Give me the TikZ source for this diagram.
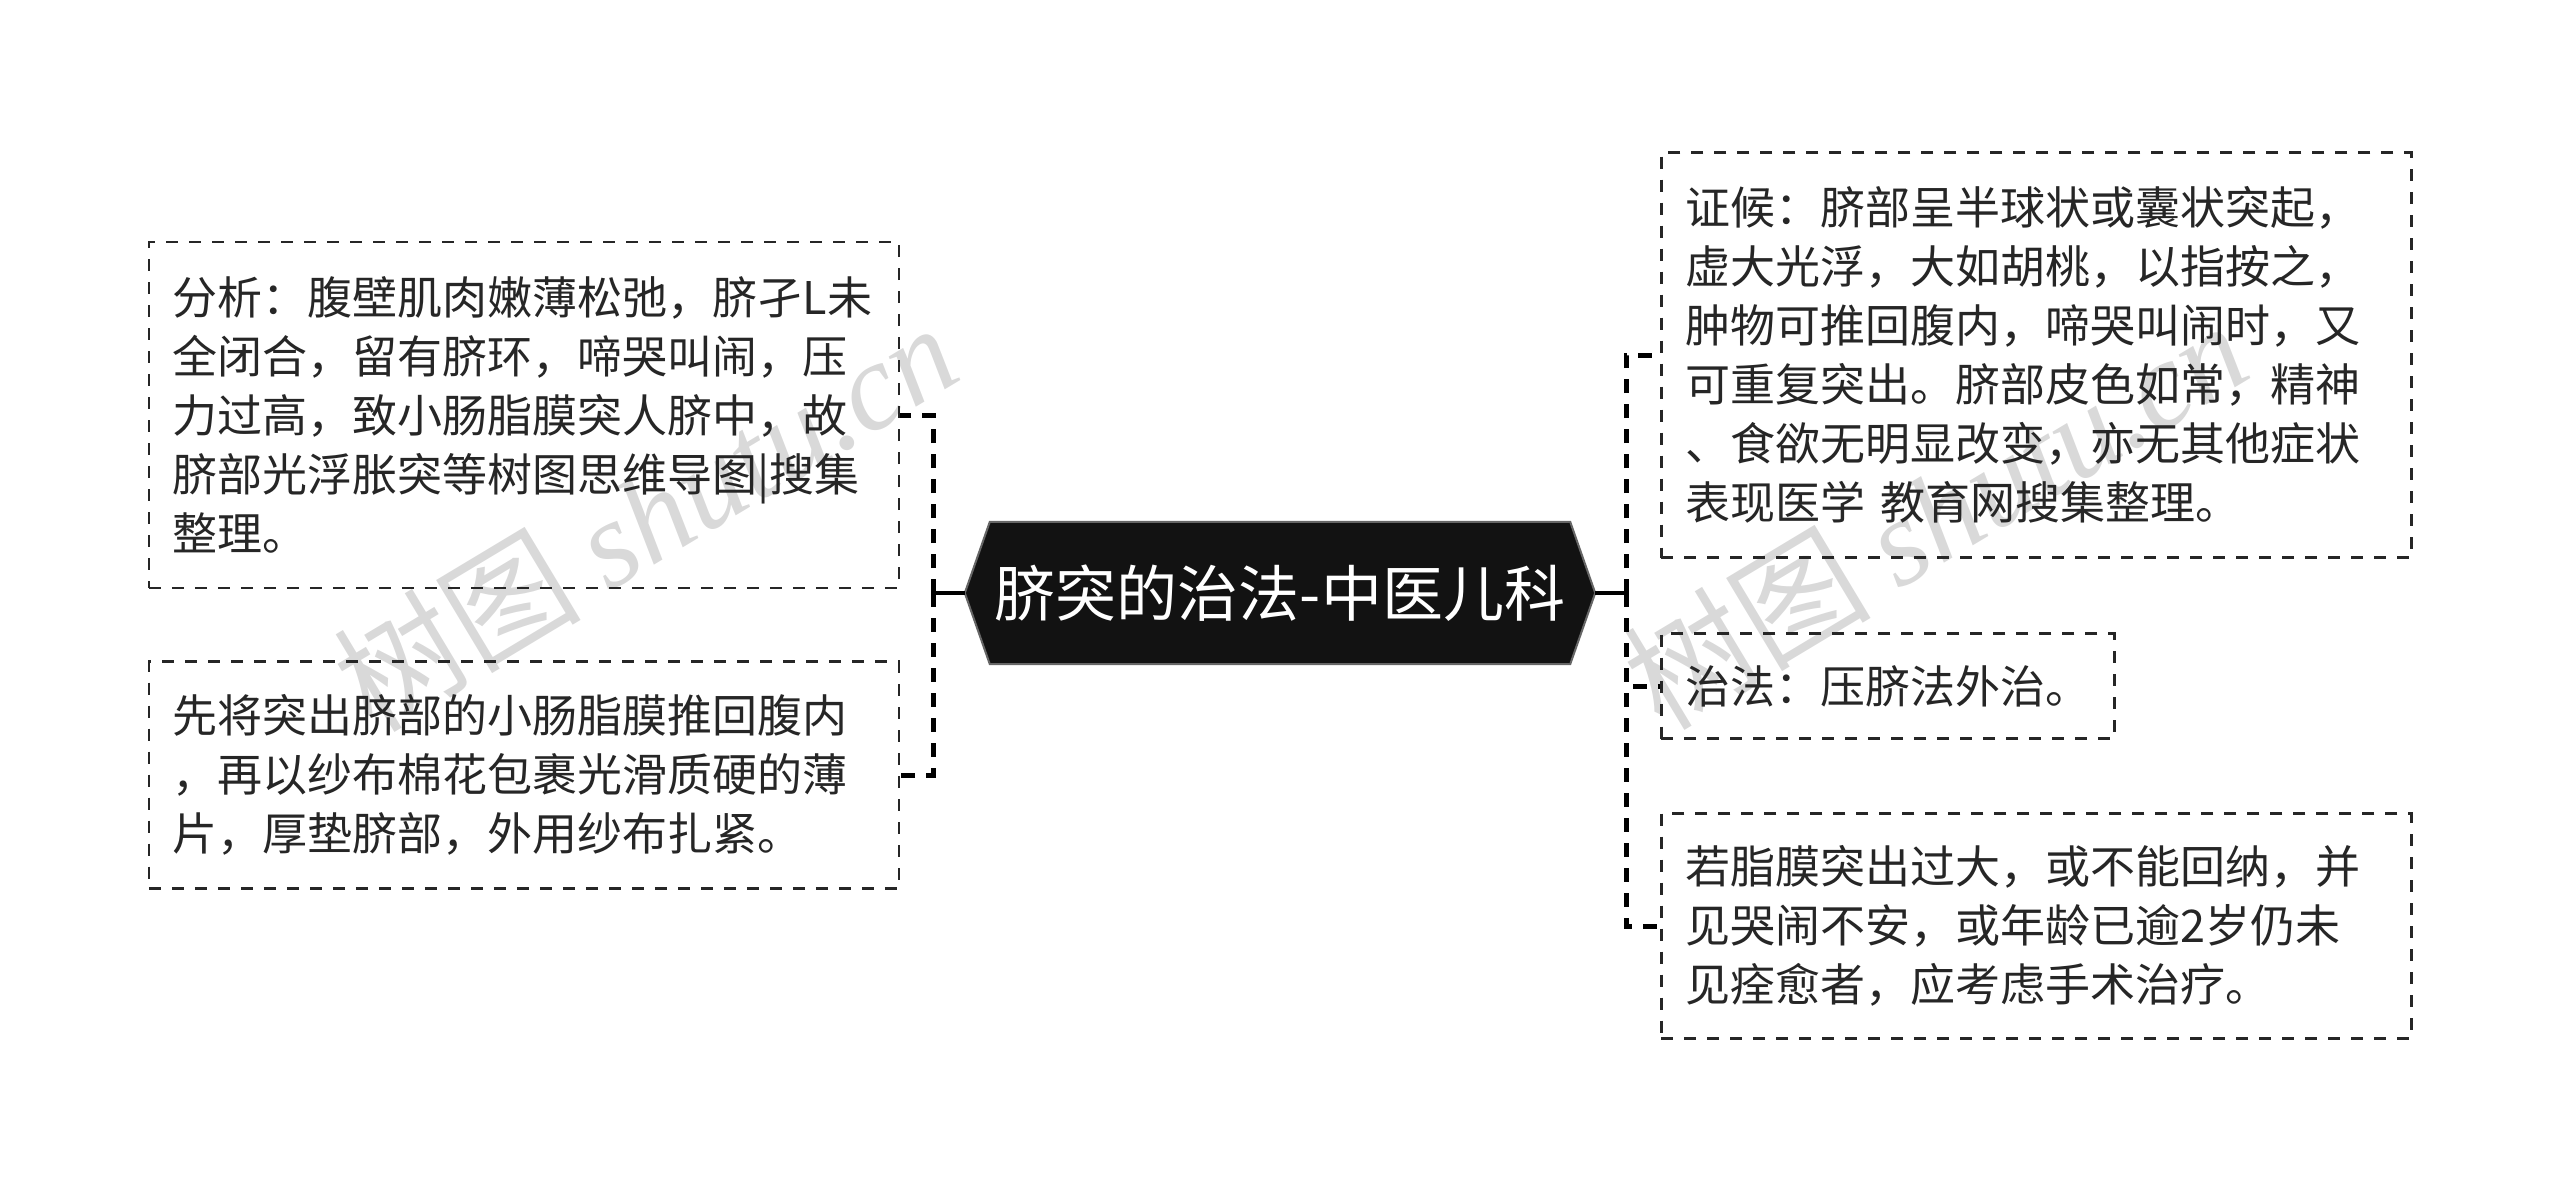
\documentclass[tikz,border=0pt]{standalone}
\usepackage{fontspec}
\setmainfont{Noto Sans CJK SC}
\newfontfamily\wmlatin{Liberation Serif}
\usetikzlibrary{backgrounds}
\begin{document}
\begin{tikzpicture}[x=1pt,y=-1pt,
  box/.style={draw=black!85, line width=2.5pt, dash pattern=on 12pt off 11pt,
    inner xsep=24pt, inner ysep=0pt, align=left, text=black!85,
    font=\fontsize{45pt}{59pt}\selectfont},
  wide/.style={text width=702pt},
  conn/.style={line width=5pt, dash pattern=on 14pt off 11pt},
  solidconn/.style={line width=4.5pt},
  central/.style={minimum width=630pt, minimum height=142pt, inner sep=0pt,
    text=white, font=\fontsize{61pt}{72pt}\selectfont},
  hex/.style={fill=black!93, draw=black!60, line width=2pt},
  wm/.style={text=black!15, font=\fontsize{124pt}{140pt}\selectfont, rotate=31, inner sep=0pt}
]
\useasboundingbox (0,0) rectangle (2560,1191);

% watermarks
\node[wm] (w1) at (645,516) {树图 {\wmlatin\itshape shutu.cn}};
\node[wm] (w2) at (1935,514) {树图 {\wmlatin\itshape shutu.cn}};

% central node
\node[central] (c) at (1280,593) {脐突的治法-中医儿科};
\begin{scope}[on background layer]
\draw[hex] (c.west) -- ([xshift=25pt]c.north west) -- ([xshift=-25pt]c.north east)
  -- (c.east) -- ([xshift=-25pt]c.south east) -- ([xshift=25pt]c.south west) -- cycle;
\end{scope}

% left boxes
\node[box, wide, anchor=east, minimum height=346pt] (l1) at (900,415)
  {分析：腹壁肌肉嫩薄松弛，脐孑L未\\全闭合，留有脐环，啼哭叫闹，压\\力过高，致小肠脂膜突人脐中，故\\脐部光浮胀突等树图思维导图|搜集\\整理。};
\node[box, wide, anchor=east, minimum height=227pt] (l2) at (900,775)
  {先将突出脐部的小肠脂膜推回腹内\\，再以纱布棉花包裹光滑质硬的薄\\片，厚垫脐部，外用纱布扎紧。};

% right boxes
\node[box, wide, anchor=west, minimum height=405pt] (r1) at (1660,355)
  {证候：脐部呈半球状或囊状突起，\\虚大光浮，大如胡桃，以指按之，\\肿物可推回腹内，啼哭叫闹时，又\\可重复突出。脐部皮色如常，精神\\、食欲无明显改变，亦无其他症状\\表现医学 教育网搜集整理。};
\node[box, anchor=west, minimum height=105pt] (r2) at (1660,686)
  {治法：压脐法外治。};
\node[box, wide, anchor=west, minimum height=225pt] (r3) at (1660,926)
  {若脂膜突出过大，或不能回纳，并\\见哭闹不安，或年龄已逾2岁仍未\\见痊愈者，应考虑手术治疗。};

% connectors
\coordinate (jl) at (933,593);
\coordinate (jr) at (1626,593);
\draw[solidconn] (c.west) -- (jl);
\draw[solidconn] (c.east) -- (jr);
\draw[conn] (jl) |- (l1.east);
\draw[conn] (jl) |- (l2.east);
\draw[conn] (jr) |- (r1.west);
\draw[conn] (jr) |- (r2.west);
\draw[conn] (jr) |- (r3.west);
\end{tikzpicture}
\end{document}
